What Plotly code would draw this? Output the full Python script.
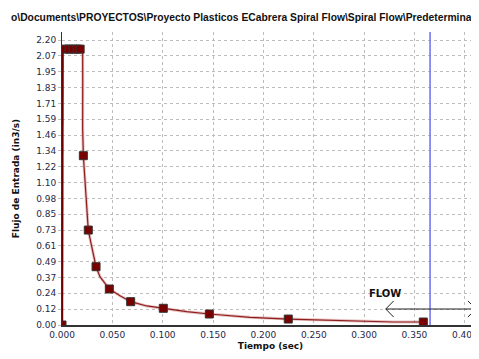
import plotly.graph_objects as go

# ---- data ----
marker_t = [0.0, 0.003, 0.007, 0.011, 0.015, 0.018, 0.0212, 0.0261, 0.0338, 0.047,
            0.0682, 0.1006, 0.1463, 0.2247, 0.3588]
marker_f = [0.0, 2.13, 2.13, 2.13, 2.13, 2.13, 1.307, 0.733, 0.45, 0.278,
            0.18, 0.129, 0.085, 0.046, 0.023]

curve_t = [0.0, 0.0006, 0.003, 0.007, 0.011, 0.015, 0.018, 0.0205, 0.0206, 0.0205,
           0.0212, 0.0228, 0.0245, 0.0261, 0.0295, 0.0338, 0.0377, 0.047, 0.0576,
           0.0682, 0.0841, 0.1006, 0.1238, 0.1463, 0.1867, 0.2247, 0.2463, 0.253,
           0.286, 0.329, 0.3588]
curve_f = [0.0, 2.13, 2.13, 2.13, 2.13, 2.13, 2.13, 2.13, 1.9, 1.52,
           1.307, 1.12, 0.865, 0.733, 0.605, 0.45, 0.373, 0.278, 0.226,
           0.18, 0.147, 0.129, 0.103, 0.085, 0.059, 0.046, 0.041, 0.039,
           0.031, 0.023, 0.023]

y_tickvals = [i * 2.2 / 18 for i in range(19)]
y_ticktext = ["0.00", "0.12", "0.24", "0.37", "0.49", "0.61", "0.73", "0.85", "0.98",
              "1.10", "1.22", "1.34", "1.46", "1.59", "1.71", "1.83", "1.95", "2.07", "2.20"]
x_tickvals = [0.0, 0.05, 0.1, 0.15, 0.2, 0.25, 0.3, 0.35, 0.4]
x_ticktext = ["0.000", "0.050", "0.100", "0.150", "0.200", "0.250", "0.300", "0.350", "0.400"]

switch_t = 0.3655
arrow_y = 0.1235
arrow_left = 0.3215

title_text = "o\\Documents\\PROYECTOS\\Proyecto Plasticos ECabrera Spiral Flow\\Spiral Flow\\Predeterminado"

X_MAX = 0.4141
Y_MAX = 2.262

FIG_W, FIG_H = 471, 351  # the page body keeps an 8px margin

fig = go.Figure()
# light halo under the curve
fig.add_trace(go.Scatter(x=curve_t, y=curve_f, mode="lines",
                         line=dict(color="rgba(205,120,120,0.45)", width=3),
                         hoverinfo="skip", showlegend=False))
fig.add_trace(go.Scatter(x=curve_t, y=curve_f, mode="lines",
                         line=dict(color="#8e1e1e", width=1.2),
                         showlegend=False))
# thick initial vertical
fig.add_trace(go.Scatter(x=curve_t[:2], y=curve_f[:2], mode="lines",
                         line=dict(color="#6a0000", width=2.2),
                         showlegend=False))
fig.add_trace(go.Scatter(x=marker_t, y=marker_f, mode="markers",
                         marker=dict(symbol="square", size=8, color="#7a0000",
                                     line=dict(color="#333333", width=1)),
                         cliponaxis=True, showlegend=False))

grid = dict(showgrid=True, gridcolor="#bdbdbd", gridwidth=1, griddash="3px,3px")
tickfont = dict(family="DejaVu Sans", size=9, color="#1e2a48")

fig.update_xaxes(range=[0, X_MAX], tickvals=x_tickvals, ticktext=x_ticktext,
                 tickfont=tickfont, zeroline=False, showline=True, linecolor="#333333",
                 linewidth=1.5, ticks="", ticklen=0, automargin=False,
                 title=dict(text="<b>Tiempo (sec)</b>", standoff=4,
                            font=dict(family="DejaVu Sans", size=9, color="#111111")),
                 **grid)
fig.update_yaxes(range=[0, Y_MAX], tickvals=y_tickvals, ticktext=y_ticktext,
                 tickfont=tickfont, zeroline=False, showline=True, linecolor="#333333",
                 linewidth=1, ticks="outside", ticklen=3, tickcolor="#bdbdbd",
                 automargin=False,
                 title=dict(text="<b>Flujo de Entrada (in3/s)</b>", standoff=15,
                            font=dict(family="DejaVu Sans", size=9, color="#111111")),
                 **grid)

shapes = [
    dict(type="line", xref="x", yref="paper", x0=switch_t, x1=switch_t, y0=0, y1=1,
         line=dict(color="#6f6ff2", width=1.5)),
    dict(type="line", xref="x", yref="y", x0=arrow_left, x1=X_MAX, y0=arrow_y, y1=arrow_y,
         line=dict(color="#222222", width=1)),
    # left chevron
    dict(type="path", xref="x", yref="y",
         path=f"M {arrow_left+0.0078},{arrow_y+0.062} L {arrow_left},{arrow_y} L {arrow_left+0.0078},{arrow_y-0.062}",
         line=dict(color="#222222", width=1)),
    # right chevron
    dict(type="path", xref="x", yref="y",
         path=f"M {X_MAX-0.011},{arrow_y+0.062} L {X_MAX-0.003},{arrow_y} L {X_MAX-0.011},{arrow_y-0.062}",
         line=dict(color="#222222", width=1)),
]

annotations = [
    dict(text="<b>FLOW</b>", xref="x", yref="y", x=0.3207, y=0.247, showarrow=False,
         font=dict(family="DejaVu Sans", size=10, color="#111111")),
    dict(text="<b>PACK</b>", xref="x", yref="y", x=0.4052, y=0.247, xanchor="left",
         showarrow=False,
         font=dict(family="DejaVu Sans", size=10, color="#111111")),
    # y-axis arrow
    dict(x=0, y=1.0, xref="x", yref="paper", ax=0, ay=1, axref="pixel", ayref="pixel",
         showarrow=True, arrowhead=1, arrowsize=1, arrowwidth=1, arrowcolor="#111111",
         text="", standoff=0),
]

fig.update_layout(width=FIG_W, height=FIG_H, margin=dict(l=54, r=0, t=24, b=34),
                  paper_bgcolor="white", plot_bgcolor="white",
                  title=dict(text="<b>" + title_text + "</b>", xref="container",
                             yref="container", x=3 / FIG_W, xanchor="left",
                             y=1 - 9 / FIG_H, yanchor="middle",
                             font=dict(family="Liberation Sans", size=10.3, color="#111111")),
                  shapes=shapes, annotations=annotations)

fig.write_html("out.html")
